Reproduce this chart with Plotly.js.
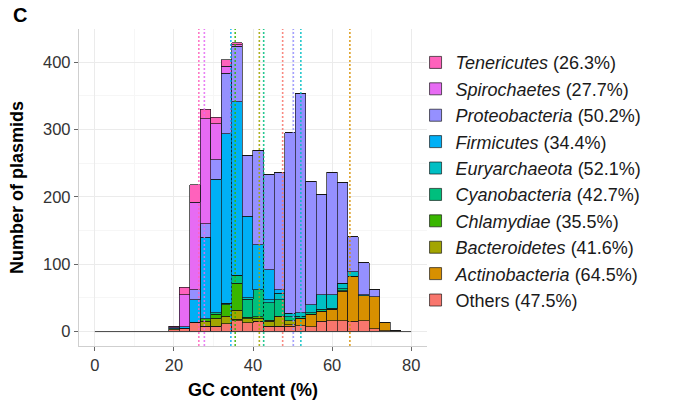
<!DOCTYPE html>
<html><head><meta charset="utf-8">
<script src="https://cdn.plot.ly/plotly-3.0.1.min.js"></script>
<style>html,body{margin:0;padding:0;background:#fff}#chart{width:679px;height:402px}</style>
</head><body><div id="chart"></div>
<script>
// GC-content histogram bins (30 bins over 0-80 %, only non-empty shown)
const gcBinCenters = [20.0, 22.67, 25.33, 28.0, 30.67, 33.33, 36.0, 38.67, 41.33, 44.0, 46.67, 49.33, 52.0, 54.67, 57.33, 60.0, 62.67, 65.33, 68.0, 70.67, 73.33, 76.0];
const binWidth = 80 / 30;
const histRange = [0, 80];

// counts per bin, stacked bottom -> top
const others         = [3, 4, 14, 8, 8, 12, 16, 13, 15, 8, 8, 8, 9, 7, 15, 16, 16, 15, 16, 4, 1, 0];
const actinobacteria = [0, 0, 0, 0, 0, 0, 2, 0, 0, 0, 0, 2, 11, 19, 15, 17, 44, 67, 37, 48, 13, 1];
const bacteroidetes  = [1, 1, 0, 7, 12, 11, 14, 6, 5, 7, 15, 6, 0, 0, 0, 0, 1, 0, 0, 0, 0, 0];
const chlamydiae     = [0, 0, 0, 4, 6, 17, 40, 2, 2, 2, 0, 0, 0, 0, 0, 0, 0, 0, 0, 0, 0, 0];
const cyanobacteria  = [0, 0, 0, 0, 2, 2, 12, 27, 40, 26, 24, 6, 3, 2, 3, 2, 3, 0, 0, 0, 0, 0];
const euryarchaeota  = [0, 0, 0, 0, 0, 0, 0, 2, 0, 4, 10, 5, 5, 12, 22, 20, 8, 7, 2, 0, 0, 0];
const firmicutes     = [2, 2, 33, 121, 198, 252, 257, 121, 67, 45, 5, 0, 0, 0, 0, 0, 0, 0, 0, 0, 0, 0];
const proteobacteria = [0, 0, 15, 20, 29, 90, 83, 91, 140, 141, 175, 268, 325, 183, 149, 182, 149, 52, 47, 10, 0, 0];
const spirochaetes   = [1, 48, 130, 156, 54, 10, 2, 0, 0, 0, 0, 0, 0, 0, 0, 0, 0, 0, 0, 0, 0, 0];
const tenericutes    = [1, 11, 26, 14, 9, 10, 3, 0, 0, 0, 0, 0, 0, 0, 0, 0, 0, 0, 0, 0, 0, 0];

// legend labels, mean GC (%), colours, bottom -> top
const phylumNames = ['Others', 'Actinobacteria', 'Bacteroidetes', 'Chlamydiae', 'Cyanobacteria', 'Euryarchaeota', 'Firmicutes', 'Proteobacteria', 'Spirochaetes', 'Tenericutes'];
const meanGC      = [47.5, 64.5, 41.6, 35.5, 42.7, 52.1, 34.4, 50.2, 27.7, 26.3];
const colors      = ['#F8766D', '#D89000', '#A3A500', '#39B600', '#00BF7D', '#00BFC4', '#00B0F6', '#9590FF', '#E76BF3', '#FF62BC'];
const seriesData  = [others, actinobacteria, bacteroidetes, chlamydiae, cyanobacteria, euryarchaeota, firmicutes, proteobacteria, spirochaetes, tenericutes];

const FONT = 'Liberation Sans, Arial, Helvetica, sans-serif';

const traces = phylumNames.map((name, i) => ({
  type: 'bar',
  x: gcBinCenters,
  y: seriesData[i],
  width: binWidth,
  name: (name === 'Others' ? name : '<i>' + name + '</i>') + ' (' + meanGC[i].toFixed(1) + '%)',
  legendrank: phylumNames.length - i,
  marker: {color: colors[i], line: {color: 'rgba(20,20,20,0.85)', width: 0.8}},
  hoverinfo: 'skip'
}));

traces.push({
  type: 'scatter', mode: 'lines',
  x: histRange, y: [0, 0],
  line: {color: '#444', width: 1},
  showlegend: false, hoverinfo: 'skip'
});

const shapes = phylumNames.map((name, i) => ({
  type: 'line', xref: 'x', yref: 'paper',
  x0: meanGC[i], x1: meanGC[i], y0: 0, y1: 1,
  line: {color: colors[i], width: 1.6, dash: '2px,2px'},
  opacity: 0.85,
  layer: 'above'
}));

const layout = {
  width: 679, height: 402,
  margin: {l: 79, r: 252, t: 29, b: 56, autoexpand: false},
  paper_bgcolor: '#fff', plot_bgcolor: '#fff',
  barmode: 'stack', bargap: 0,
  font: {family: FONT, color: '#222'},
  showlegend: true,
  legend: {
    xref: 'container', yref: 'container',
    x: 0.612, y: 0.89, xanchor: 'left', yanchor: 'top',
    traceorder: 'normal',
    maxheight: 380,
    font: {family: FONT, size: 18, color: '#1a1a1a'},
    bgcolor: 'rgba(0,0,0,0)', itemwidth: 30
  },
  xaxis: {
    range: [-4, 84], tickvals: [0, 20, 40, 60, 80],
    ticks: 'outside', ticklen: 4, tickcolor: '#666', tickwidth: 1,
    tickfont: {family: FONT, size: 16.5, color: '#333'},
    showgrid: true, gridcolor: '#ebebeb', gridwidth: 1,
    minor: {dtick: 10, tick0: 0, showgrid: true, gridcolor: '#f6f6f6', gridwidth: 1},
    zeroline: false, showline: true, linecolor: '#cfcfcf', linewidth: 1.2,
    title: {text: '<b>GC content (%)</b>', font: {family: FONT, size: 18, color: '#000'}, standoff: 10}
  },
  yaxis: {
    range: [-21.4, 449.4], tickvals: [0, 100, 200, 300, 400],
    ticks: 'outside', ticklen: 4, tickcolor: '#666', tickwidth: 1,
    tickfont: {family: FONT, size: 16.5, color: '#333'},
    showgrid: true, gridcolor: '#ebebeb', gridwidth: 1,
    minor: {dtick: 50, tick0: 0, showgrid: true, gridcolor: '#f6f6f6', gridwidth: 1},
    zeroline: false, showline: true, linecolor: '#cfcfcf', linewidth: 1.2,
    title: {text: '<b>Number of plasmids</b>', font: {family: FONT, size: 18, color: '#000'}, standoff: 14}
  },
  shapes: shapes,
  annotations: [{
    xref: 'paper', yref: 'paper', x: -0.195, y: 1.045, xanchor: 'left', yanchor: 'middle',
    text: '<b>C</b>', showarrow: false, font: {family: FONT, size: 20, color: '#000'}
  }]
};

Plotly.newPlot('chart', traces, layout, {displayModeBar: false, staticPlot: true});
</script>
</body></html>
